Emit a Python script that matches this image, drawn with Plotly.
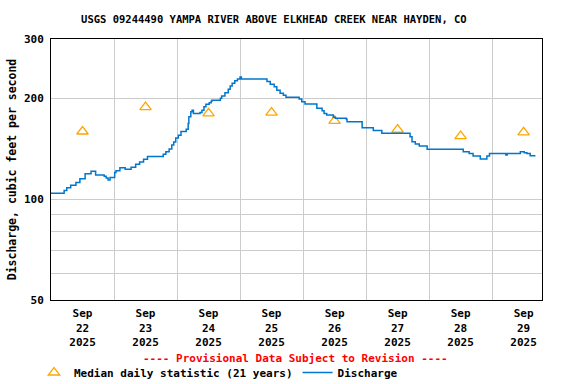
import math
import plotly.graph_objects as go

title = "USGS 09244490 YAMPA RIVER ABOVE ELKHEAD CREEK NEAR HAYDEN, CO"

discharge_times = [
    "2025-09-22 00:00", "2025-09-22 05:00", "2025-09-22 06:00", "2025-09-22 07:30",
    "2025-09-22 09:30", "2025-09-22 11:00", "2025-09-22 13:00", "2025-09-22 15:15",
    "2025-09-22 17:00", "2025-09-22 20:15", "2025-09-22 21:00", "2025-09-22 21:45",
    "2025-09-22 22:30", "2025-09-23 00:15", "2025-09-23 00:45", "2025-09-23 02:15",
    "2025-09-23 04:15", "2025-09-23 06:30", "2025-09-23 08:15", "2025-09-23 09:45",
    "2025-09-23 11:15", "2025-09-23 12:45", "2025-09-23 18:45", "2025-09-23 19:45",
    "2025-09-23 21:00", "2025-09-23 22:00", "2025-09-23 22:45", "2025-09-23 23:30",
    "2025-09-24 00:30", "2025-09-24 01:30", "2025-09-24 03:30", "2025-09-24 04:15",
    "2025-09-24 04:30", "2025-09-24 05:15", "2025-09-24 05:45", "2025-09-24 06:15",
    "2025-09-24 08:45", "2025-09-24 09:30", "2025-09-24 10:15", "2025-09-24 11:00",
    "2025-09-24 12:15", "2025-09-24 13:00", "2025-09-24 13:15", "2025-09-24 16:30",
    "2025-09-24 17:00", "2025-09-24 18:15", "2025-09-24 19:30", "2025-09-24 20:15",
    "2025-09-24 21:00", "2025-09-24 22:00", "2025-09-24 23:00", "2025-09-25 00:00",
    "2025-09-25 00:30", "2025-09-25 10:15", "2025-09-25 11:30", "2025-09-25 13:00",
    "2025-09-25 14:00", "2025-09-25 15:15", "2025-09-25 16:30", "2025-09-25 17:30",
    "2025-09-25 22:30", "2025-09-25 23:30", "2025-09-26 00:45", "2025-09-26 05:15",
    "2025-09-26 07:15", "2025-09-26 08:00", "2025-09-26 09:00", "2025-09-26 11:30",
    "2025-09-26 12:15", "2025-09-26 16:30", "2025-09-26 16:45", "2025-09-26 22:30",
    "2025-09-27 02:45", "2025-09-27 06:00", "2025-09-27 16:45", "2025-09-27 17:30",
    "2025-09-27 18:45", "2025-09-27 20:15", "2025-09-27 23:15", "2025-09-28 13:00",
    "2025-09-28 15:15", "2025-09-28 16:45", "2025-09-28 19:30", "2025-09-28 22:00",
    "2025-09-28 23:00", "2025-09-29 05:15", "2025-09-29 05:45", "2025-09-29 10:45",
    "2025-09-29 12:15", "2025-09-29 13:15", "2025-09-29 14:30", "2025-09-29 16:30",
]
discharge_cfs = [
    104, 106, 108, 110,
    112, 115, 119, 121,
    118, 117, 115.5, 114,
    116, 120, 121.5, 124,
    122.7, 124.3, 127, 129,
    131.4, 134, 136, 138.4,
    141, 145, 148, 152,
    155, 159, 161.4, 168,
    176, 182, 184, 180,
    181, 184, 188.5, 191.6,
    193.7, 195.6, 197, 199.7,
    203, 207.5, 212.4, 217.3,
    221.3, 225.4, 228, 231,
    228, 224, 220, 216,
    211, 206.6, 204, 201,
    198.7, 195, 192, 186.4,
    183.4, 180, 178, 175.3,
    174, 173, 170, 163,
    160, 157, 153.4, 148.3,
    146, 144, 140.7, 138.4,
    136.8, 134.4, 131.6, 134.4,
    136.8, 135.3, 136.8, 138.4,
    137.4, 136.8, 134.7, 134.7,
]

median_days = ["2025-09-22 12:00", "2025-09-23 12:00", "2025-09-24 12:00", "2025-09-25 12:00",
               "2025-09-26 12:00", "2025-09-27 12:00", "2025-09-28 12:00", "2025-09-29 12:00"]
median_cfs = [159, 188, 180, 181, 171, 161, 154, 158]

x_tick_vals = median_days
x_tick_text = ["Sep<br>22<br>2025", "Sep<br>23<br>2025", "Sep<br>24<br>2025", "Sep<br>25<br>2025",
               "Sep<br>26<br>2025", "Sep<br>27<br>2025", "Sep<br>28<br>2025", "Sep<br>29<br>2025"]
y_tick_vals = [50, 100, 200, 300]
y_minor_vals = [60, 70, 80, 90]

FONT = "DejaVu Sans Mono"
GRID = "#cccccc"

fig = go.Figure()
fig.add_trace(go.Scatter(
    x=median_days, y=median_cfs, mode="markers",
    name="Median daily statistic (21 years)",
    marker=dict(symbol="triangle-up-open", size=10, color="#FFA500", line=dict(width=1.3, color="#FFA500")),
))
fig.add_trace(go.Scatter(
    x=discharge_times, y=discharge_cfs, mode="lines", line_shape="hv",
    name="Discharge", line=dict(color="#0077CC", width=1.5),
))

fig.update_layout(
    width=576, height=384,
    margin=dict(l=51, r=34, t=39, b=84, autoexpand=False),
    paper_bgcolor="white", plot_bgcolor="white",
    font=dict(family=FONT, size=11, color="black", weight="bold"),
    title=dict(text=title, x=0.4755, xanchor="center", xref="container",
               y=1 - 19 / 384, yanchor="middle", yref="container",
               font=dict(family=FONT, size=10.5, weight="bold", color="black")),
    showlegend=True,
    legend=dict(orientation="h", xref="container", yref="container",
                x=34 / 576, xanchor="left", y=1 - 358 / 384, yanchor="top",
                font=dict(family=FONT, size=11, weight="bold"), bgcolor="rgba(0,0,0,0)",
                traceorder="normal", itemwidth=30, tracegroupgap=0),
    annotations=[dict(text="---- Provisional Data Subject to Revision ----",
                      xref="paper", yref="paper", x=0.497, y=-0.226, xanchor="center", yanchor="middle",
                      showarrow=False, font=dict(family=FONT, size=11, color="#FF0000", weight="bold"))],
)
fig.update_xaxes(
    type="date", range=["2025-09-22 00:00", "2025-09-29 19:00"], automargin=False,
    tickmode="array", tickvals=x_tick_vals, ticktext=x_tick_text, ticks="",
    showgrid=False, zeroline=False,
    minor=dict(dtick=86400000, tick0="2025-09-22", showgrid=True, gridcolor=GRID, gridwidth=1, ticks=""),
    showline=True, linecolor="black", linewidth=1, mirror=True,
    ticklabelstandoff=3,
    tickfont=dict(family=FONT, size=11, weight="bold"),
)
fig.update_yaxes(
    type="log", range=[math.log10(50), math.log10(300)], automargin=True,
    tickmode="array", tickvals=y_tick_vals, ticktext=[str(v) for v in y_tick_vals], ticks="",
    showgrid=True, gridcolor=GRID, gridwidth=1, zeroline=False,
    minor=dict(tickvals=y_minor_vals, showgrid=True, gridcolor=GRID, gridwidth=1, ticks=""),
    showline=True, linecolor="black", linewidth=1, mirror=True,
    ticklabelstandoff=4,
    title=dict(text="Discharge, cubic feet per second", standoff=4,
               font=dict(family=FONT, size=11.5, weight="bold")),
    tickfont=dict(family=FONT, size=11, weight="bold"),
)

fig.write_html("out.html", config={"displayModeBar": False},
               post_script="document.body.style.margin='0';document.body.style.overflow='hidden';")
